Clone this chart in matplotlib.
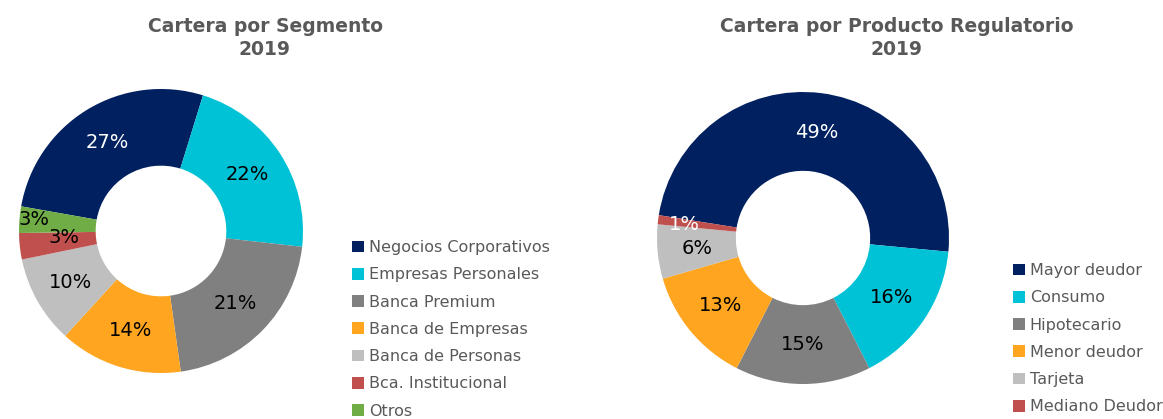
import matplotlib
matplotlib.use("Agg")
import matplotlib.pyplot as plt

# left chart data
seg_labels = ["Negocios Corporativos", "Empresas Personales", "Banca Premium",
              "Banca de Empresas", "Banca de Personas", "Bca. Institucional", "Otros"]
seg_values = [27, 22, 21, 14, 10, 3, 3]
seg_colors = ["#002060", "#00C2D6", "#808080", "#FFA520", "#BFBFBF", "#C0504D", "#70AD47"]

# right chart data
prod_labels = ["Mayor deudor", "Consumo", "Hipotecario", "Menor deudor",
               "Tarjeta", "Mediano Deudor"]
prod_values = [49, 16, 15, 13, 6, 1]
prod_colors = ["#002060", "#00C2D6", "#808080", "#FFA520", "#BFBFBF", "#C0504D"]

W, H = 1163, 419
TXT = "#595959"


def px_axes(fig, x, y, w, h):
    # x, y = top-left corner in pixels
    return fig.add_axes([x / W, (H - y - h) / H, w / W, h / H])


def draw_donut(fig, box, values, colors, start, white_idx, push):
    ax = px_axes(fig, *box)
    wedges, texts, autotexts = ax.pie(
        values, colors=colors, startangle=start, counterclock=False,
        radius=1.0, wedgeprops=dict(width=0.54, linewidth=0),
        autopct="%d%%", pctdistance=0.73,
        textprops=dict(fontsize=14, color="black"))
    for i, t in enumerate(autotexts):
        if i in white_idx:
            t.set_color("white")
        if i in push:
            x, y = t.get_position()
            t.set_position((x * push[i][0], y * push[i][1]))
    ax.set_xlim(-1, 1)
    ax.set_ylim(-1, 1)
    ax.set_aspect("equal")
    ax.axis("off")
    return wedges


def add_legend(fig, wedges, labels, x, y, spacing):
    fig.legend(wedges, labels, loc="upper left",
               bbox_to_anchor=(x / W, 1 - y / H), bbox_transform=fig.transFigure,
               frameon=False, fontsize=11.5, labelcolor=TXT,
               handlelength=0.75, handleheight=0.75, handletextpad=0.3,
               labelspacing=spacing, borderpad=0, borderaxespad=0)


fig = plt.figure(figsize=(W / 100, H / 100), dpi=100, facecolor="white")

w1 = draw_donut(fig, (19, 89, 284, 284), seg_values, seg_colors, 170,
                white_idx=[0], push={6: (1.23, 1.4), 5: (0.94, 0.6)})
w2 = draw_donut(fig, (657, 92, 292, 292), prod_values, prod_colors, 171,
                white_idx=[0, 5], push={5: (1.12, 1.0)})

fig.text(265 / W, 1 - 38 / H, "Cartera por Segmento\n2019", ha="center", va="center",
         fontsize=13.5, fontweight="bold", color=TXT, linespacing=1.3)
fig.text(897 / W, 1 - 38 / H, "Cartera por Producto Regulatorio\n2019", ha="center",
         va="center", fontsize=13.5, fontweight="bold", color=TXT, linespacing=1.3)

add_legend(fig, w1, seg_labels, 352, 240, 0.77)
add_legend(fig, w2, prod_labels, 1013, 263, 0.77)

fig.savefig("out.png", dpi=100, facecolor="white")
